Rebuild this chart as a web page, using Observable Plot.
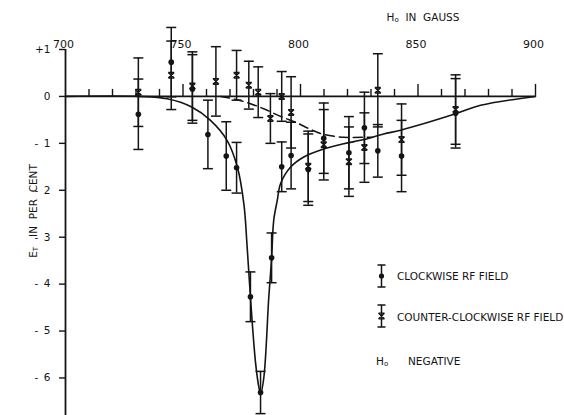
<!DOCTYPE html>
<html><head><meta charset="utf-8">
<script src="https://cdn.jsdelivr.net/npm/d3@7"></script>
<script src="https://cdn.jsdelivr.net/npm/@observablehq/plot@0.6"></script>
<style>body{margin:0;background:#fff} #chart{width:564px;height:415px}</style>
</head><body><div id="chart"></div>
<script>
// ---- data ----
// clockwise RF field (dots)
const cwField  = [731, 745, 754, 760.6, 768.4, 772.8, 778.7, 783, 787.7, 792, 796, 803.3, 809.9, 820.6, 827.2, 832.9, 843, 866];
const cwEffect = [-0.38, 0.73, 0.16, -0.81, -1.27, -1.52, -4.27, -6.31, -3.44, -1.5, -1.26, -1.56, -0.89, -1.2, -0.67, -1.16, -1.27, -0.36];
const cwError  = [0.75, 0.74, 0.73, 0.73, 0.73, 0.54, 0.53, 0.45, 0.53, 0.53, 0.71, 0.76, 0.75, 0.77, 0.76, 0.56, 0.76, 0.74];
// counter-clockwise RF field (crosses)
const ccwField  = [731, 745, 754, 764, 772.8, 778, 782, 787.2, 792, 796, 803.3, 809.9, 820.6, 827.2, 832.9, 843, 866];
const ccwEffect = [0.09, 0.45, 0.22, 0.32, 0.45, 0.24, 0.09, -0.47, 0, -0.34, -1.49, -1.03, -1.39, -1.09, 0.13, -0.92, -0.28];
const ccwError  = [0.73, 0.73, 0.73, 0.74, 0.53, 0.51, 0.54, 0.53, 0.53, 0.76, 0.75, 0.75, 0.74, 0.74, 0.78, 0.76, 0.74];
// solid theoretical curve
const solidField  = [700, 731, 743.3, 753.9, 761.7, 768.8, 773.1, 775.9, 777.3, 778.7, 780.9, 782.3, 783, 784.4, 786.5, 787.7, 788.6, 790.1, 791.5, 795.7, 801.4, 809.9, 818.4, 826.9, 835.4, 842.6, 866, 876.6, 900];
const solidEffect = [0, 0, -0.05, -0.23, -0.51, -0.94, -1.5, -2.29, -3.21, -4.28, -5.69, -6.2, -6.34, -5.99, -4.28, -3.45, -2.64, -2.22, -1.86, -1.51, -1.29, -1.12, -1.01, -0.92, -0.8, -0.72, -0.37, -0.19, 0];
// dashed curve
const dashField  = [766, 773, 779, 785.1, 792.2, 797.9, 805, 809.8, 818.3, 826.8, 830.6];
const dashEffect = [0, -0.07, -0.16, -0.28, -0.44, -0.55, -0.72, -0.81, -0.87, -0.87, -0.87];
// axes
const xMinorTicks = [710, 720, 730, 740, 760, 770, 780, 790, 810, 820, 830, 840, 860, 870, 880, 890];
const xMajorTicks = [750, 800, 850, 900];
const xTickLabels = [700, 750, 800, 850, 900];
const yTicks = [1, 0, -1, -2, -3, -4, -5, -6];
const yTickLabels = ["+1", "0", "-\u2009 1", "-\u2009 2", "-\u2009 3", "-\u2009 4", "-\u2009 5", "-\u2009 6"];

// ---- build ----
const ink = "#141414";
const font = "'DejaVu Sans', sans-serif";
const cw = cwField.map((h, i) => ({h, e: cwEffect[i], s: cwError[i]}));
const ccw = ccwField.map((h, i) => ({h, e: ccwEffect[i], s: ccwError[i]}));
const solid = solidField.map((h, i) => ({h, e: solidEffect[i]}));
const dashed = dashField.map((h, i) => ({h, e: dashEffect[i]}));

const capSym = {draw(c) { c.moveTo(-5, 0); c.lineTo(5, 0); }};
const xSym = {draw(c) {
  c.moveTo(-3, -2.8); c.lineTo(3, 2.8); c.moveTo(3, -2.8); c.lineTo(-3, 2.8);
  c.moveTo(-3, -2.8); c.lineTo(3, -2.8); c.moveTo(-3, 2.8); c.lineTo(3, 2.8);
}};

function bars(data) {
  return [
    Plot.ruleX(data, {x: "h", y1: d => d.e - d.s, y2: d => d.e + d.s, stroke: ink, strokeWidth: 1.5}),
    Plot.dot(data, {x: "h", y: d => d.e - d.s, symbol: capSym, stroke: ink, fill: "none", strokeWidth: 1.5}),
    Plot.dot(data, {x: "h", y: d => d.e + d.s, symbol: capSym, stroke: ink, fill: "none", strokeWidth: 1.5})
  ];
}

const plot = Plot.plot({
  width: 564, height: 415,
  marginLeft: 65, marginRight: 29, marginTop: 49, marginBottom: 0,
  x: {domain: [700, 900], axis: null},
  y: {domain: [-6.8, 1], axis: null},
  style: {fontFamily: font, color: ink, background: "white"},
  marks: [
    Plot.ruleY([0], {x1: 700, x2: 900, stroke: ink, strokeWidth: 1.8}),
    Plot.ruleX([700], {y1: -6.8, y2: 1, stroke: ink, strokeWidth: 1.8}),
    Plot.ruleX(xMinorTicks, {x: d => d, y1: 0, y2: 0, insetBottom: 7, stroke: ink, strokeWidth: 1.4}),
    Plot.ruleX(xMajorTicks, {x: d => d, y1: 0, y2: 0, insetBottom: 12, stroke: ink, strokeWidth: 1.4}),
    Plot.ruleY(yTicks, {y: d => d, x1: 700, x2: 700, insetLeft: -6, stroke: ink, strokeWidth: 1.4}),
    Plot.text(xTickLabels, {x: d => d, frameAnchor: "top", dy: -9, dx: -2, text: d => String(d), fontSize: 11, fill: ink}),
    Plot.text(yTicks, {y: d => d, frameAnchor: "left", dx: -15, textAnchor: "end", text: (d, i) => yTickLabels[i], fontSize: 10.5, fill: ink}),
    Plot.line(solid, {x: "h", y: "e", curve: "catmull-rom", stroke: ink, strokeWidth: 1.6}),
    Plot.line(dashed, {x: "h", y: "e", curve: "catmull-rom", stroke: ink, strokeWidth: 1.5, strokeDasharray: "9,5"}),
    ...bars(cw),
    ...bars(ccw),
    Plot.dot(cw, {x: "h", y: "e", r: 2.8, fill: ink, stroke: "none"}),
    Plot.dot(ccw, {x: "h", y: "e", symbol: xSym, stroke: ink, fill: "none", strokeWidth: 1.4})
  ]
});

const svg = d3.select(plot);
// axis titles
const ht = svg.append("text").attr("x", 423).attr("y", 17).attr("text-anchor", "middle")
  .attr("dominant-baseline", "central").attr("font-size", 10.5).attr("fill", ink).style("white-space", "pre");
ht.append("tspan").text("H");
ht.append("tspan").attr("font-size", 7).attr("dy", 3).text("o");
ht.append("tspan").attr("dy", -3).text("  IN  GAUSS");

const yt = svg.append("text").attr("transform", "translate(33,211) rotate(-90)").attr("text-anchor", "middle")
  .attr("dominant-baseline", "central").attr("font-size", 10.5).attr("fill", ink).style("white-space", "pre");
yt.append("tspan").text("E");
yt.append("tspan").attr("font-size", 7).attr("dy", 3).text("T");
yt.append("tspan").attr("dy", -3).text("   IN  PER  CENT");

// legend
const lg = svg.append("g").attr("stroke", ink).attr("stroke-width", 1.5).attr("fill", "none");
function glyph(cx, cy) {
  lg.append("line").attr("x1", cx).attr("x2", cx).attr("y1", cy - 11).attr("y2", cy + 11);
  lg.append("line").attr("x1", cx - 4).attr("x2", cx + 4).attr("y1", cy - 11).attr("y2", cy - 11);
  lg.append("line").attr("x1", cx - 4).attr("x2", cx + 4).attr("y1", cy + 11).attr("y2", cy + 11);
}
glyph(381.5, 276);
lg.append("circle").attr("cx", 381.5).attr("cy", 276).attr("r", 2.6).attr("fill", ink).attr("stroke", "none");
glyph(381.5, 316);
lg.append("path").attr("d", "M378.5,313.2L384.5,318.8M384.5,313.2L378.5,318.8M378.5,313.2L384.5,313.2M378.5,318.8L384.5,318.8").attr("stroke-width", 1.3);
const lt = svg.append("g").attr("font-size", 10.5).attr("fill", ink).attr("text-anchor", "start").attr("dominant-baseline", "central");
lt.append("text").attr("x", 397).attr("y", 276).text("CLOCKWISE RF FIELD");
lt.append("text").attr("x", 397).attr("y", 316.5).text("COUNTER-CLOCKWISE RF FIELD");
const hn = lt.append("text").attr("x", 376).attr("y", 361);
hn.append("tspan").text("H");
hn.append("tspan").attr("font-size", 7).attr("dy", 3).text("o");
lt.append("text").attr("x", 408).attr("y", 361).text("NEGATIVE");

document.getElementById("chart").append(plot);
</script>
</body></html>
